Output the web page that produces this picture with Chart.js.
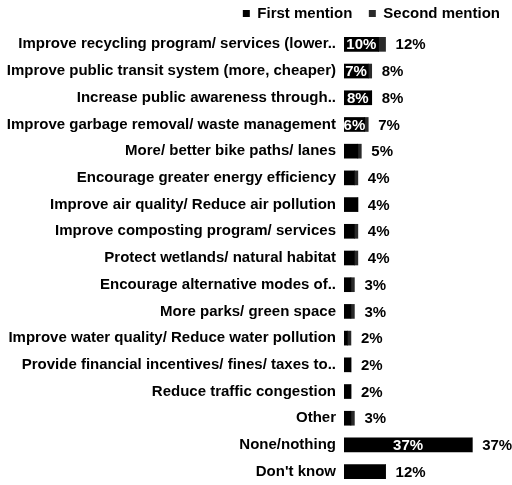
<!DOCTYPE html>
<html>
<head>
<meta charset="utf-8">
<script src="https://cdn.jsdelivr.net/npm/chart.js@4/dist/chart.umd.min.js"></script>
<style>
html,body{margin:0;padding:0;background:#fff;}
#wrap{width:512px;height:485px;}
</style>
</head>
<body>
<div id="wrap"><canvas id="c" width="512" height="485"></canvas></div>
<script>
const categories = [
  "Improve recycling program/ services (lower..",
  "Improve public transit system (more, cheaper)",
  "Increase public awareness through..",
  "Improve garbage removal/ waste management",
  "More/ better bike paths/ lanes",
  "Encourage greater energy efficiency",
  "Improve air quality/ Reduce air pollution",
  "Improve composting program/ services",
  "Protect wetlands/ natural habitat",
  "Encourage alternative modes of..",
  "More parks/ green space",
  "Improve water quality/ Reduce water pollution",
  "Provide financial incentives/ fines/ taxes to..",
  "Reduce traffic congestion",
  "Other",
  "None/nothing",
  "Don't know"
];
const firstMention  = [10, 7, 8, 6, 4, 3, 4, 3, 3, 2, 2, 1, 2, 2, 2, 37, 12];
const secondMention = [2, 1, 0, 1, 1, 1, 0, 1, 1, 1, 1, 1, 0, 0, 1, 0, 0];
const totals        = [12, 8, 8, 7, 5, 4, 4, 4, 4, 3, 3, 2, 2, 2, 3, 37, 12];
const innerLabels   = ["10%", "7%", "8%", "6%", "", "", "", "", "", "", "", "", "", "", "", "37%", ""];

const FONT = "'Liberation Sans', Arial, sans-serif";

const labelPlugin = {
  id: 'labels',
  afterDatasetsDraw(chart) {
    const ctx = chart.ctx;
    ctx.save();
    ctx.font = "bold 15px " + FONT;
    ctx.textBaseline = 'middle';
    const m0 = chart.getDatasetMeta(0);
    m0.data.forEach((bar, i) => {
      const t = innerLabels[i];
      if (t) {
        ctx.fillStyle = '#fff';
        ctx.textAlign = 'center';
        ctx.fillText(t, (bar.x + bar.base) / 2, bar.y + 1);
      }
    });
    const m1 = chart.getDatasetMeta(1);
    m1.data.forEach((bar, i) => {
      ctx.fillStyle = '#000';
      ctx.textAlign = 'left';
      ctx.fillText(totals[i] + '%', Math.max(bar.x, m0.data[i].x) + 10, bar.y + 1);
    });
    ctx.restore();
  }
};

new Chart(document.getElementById('c'), {
  type: 'bar',
  data: {
    labels: categories,
    datasets: [
      { label: 'First mention', data: firstMention, backgroundColor: '#000', borderWidth: 0, barThickness: 14 },
      { label: 'Second mention', data: secondMention, backgroundColor: '#2a2a2a', borderWidth: 0, barThickness: 14 }
    ]
  },
  options: {
    indexAxis: 'y',
    responsive: false,
    animation: false,
    layout: { autoPadding: false, padding: { left: 4, right: 8, top: 2, bottom: 0 } },
    plugins: {
      legend: {
        display: true,
        position: 'top',
        align: 'end',
        labels: {
          boxWidth: 7, boxHeight: 7, padding: 4,
          color: '#000',
          font: { family: FONT, size: 15, weight: 'bold' },
          generateLabels(chart) {
            const items = Chart.defaults.plugins.legend.labels.generateLabels(chart);
            items.forEach((it, i) => { if (i < items.length - 1) it.text = it.text + '\u00a0\u00a0\u00a0'; });
            return items;
          }
        }
      },
      tooltip: { enabled: false }
    },
    scales: {
      x: {
        stacked: true, display: false, min: 0, max: 46.2
      },
      y: {
        stacked: true,
        afterFit(scale) { scale.width = 340; scale.paddingTop = 0; scale.paddingBottom = 0; },
        grid: { display: false, drawTicks: false },
        border: { display: false },
        ticks: {
          color: '#000',
          padding: 8,
          autoSkip: false,
          font: { family: FONT, size: 15, weight: 'bold' }
        }
      }
    }
  },
  plugins: [labelPlugin]
});
</script>
</body>
</html>
